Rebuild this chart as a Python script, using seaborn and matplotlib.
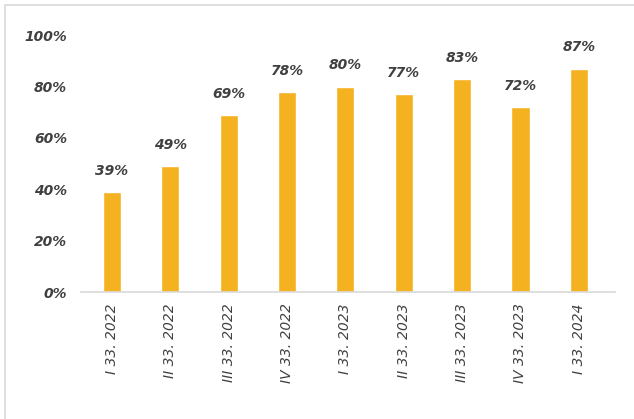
import matplotlib
matplotlib.use("Agg")
import matplotlib.pyplot as plt
import seaborn as sns
import pandas as pd
from matplotlib.patches import Rectangle

categories = ["I 33. 2022", "II 33. 2022", "III 33. 2022", "IV 33. 2022",
              "I 33. 2023", "II 33. 2023", "III 33. 2023", "IV 33. 2023", "I 33. 2024"]
values = [39, 49, 69, 78, 80, 77, 83, 72, 87]
yticks = [0, 20, 40, 60, 80, 100]

sns.set_theme(style="white")
plt.rcParams['font.family'] = ['DejaVu Sans']

df = pd.DataFrame({"cat": categories, "val": values})

fig = plt.figure(figsize=(6.34, 4.19), dpi=100)
ax = fig.add_axes([81/634, 0.303, 534/634, 0.613])
sns.barplot(data=df, x="cat", y="val", color="#F4B120", width=0.31, ax=ax, saturation=1)

ax.set_ylim(0, 100)
ax.set_xlim(-0.53, 8.62)
ax.set_yticks(yticks)
ax.set_yticklabels([f"{t}%" for t in yticks], fontsize=10, fontstyle="italic",
                   fontweight="bold", color="#404040")
ax.set_xticks(range(len(categories)))
ax.set_xticklabels(categories, rotation=90, fontsize=10, fontstyle="italic",
                   color="#404040")
ax.tick_params(axis="y", length=0, pad=10)
ax.tick_params(axis="x", length=0, pad=8)
ax.set_xlabel("")
ax.set_ylabel("")
for s in ["top", "right", "left"]:
    ax.spines[s].set_visible(False)
ax.spines["bottom"].set_color("#D9D9D9")
ax.spines["bottom"].set_linewidth(1.2)

for i, v in enumerate(values):
    ax.text(i, v + 5.5, f"{v}%", ha="center", va="bottom", fontsize=10,
            fontstyle="italic", fontweight="bold", color="#404040")

fig.patches.append(Rectangle((5/634, -0.01), 1.0, 1 - 5/419 + 0.01,
                             transform=fig.transFigure, fill=False,
                             edgecolor="#D9D9D9", linewidth=1.2))

fig.savefig("out.png", dpi=100)
